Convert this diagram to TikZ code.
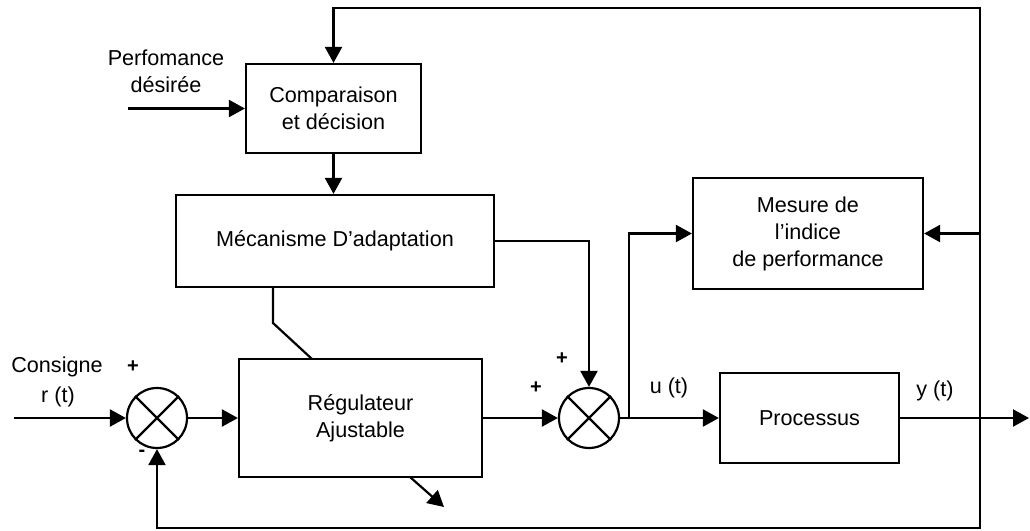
\documentclass[tikz,border=0pt]{standalone}
\usepackage{fontspec}
\setmainfont{Liberation Sans}
\usetikzlibrary{arrows.meta}

\tikzset{
  bloc/.style={draw, line width=1.1pt, align=center, inner sep=0pt},
  somme/.style={draw, circle, line width=1.1pt, minimum size=30pt, inner sep=0pt},
  fleche/.style={-{Triangle[length=8pt,width=8.5pt]}},
  signe/.style={font=\fontsize{10}{11}\selectfont\bfseries},
}

\begin{document}
\begin{tikzpicture}[x=0.5pt, y=-0.5pt, line width=1.1pt, font=\fontsize{10.8}{13.5}\selectfont]
    \useasboundingbox (0,0) rectangle (1030,531);

    % Blocs
    \node[bloc, minimum width=87.5pt, minimum height=44.5pt] (comp) at (333.5,108.5) {Comparaison\\et décision};
    \node[bloc, minimum width=159pt, minimum height=46pt] (mec) at (335,241) {Mécanisme D’adaptation};
    \node[bloc, minimum width=121.5pt, minimum height=59pt] (reg) at (360.5,418) {Régulateur\\Ajustable};
    \node[bloc, minimum width=115pt, minimum height=55.5pt] (mes) at (808,233.5) {Mesure de\\l’indice\\de performance};
    \node[bloc, minimum width=89.5pt, minimum height=45pt] (proc) at (809.5,418) {Processus};

    % Sommateurs
    \node[somme] (sum1) at (157,418) {};
    \node[somme] (sum2) at (589,418) {};
    \draw (sum1.north east) -- (sum1.south west) (sum1.north west) -- (sum1.south east);
    \draw (sum2.north east) -- (sum2.south west) (sum2.north west) -- (sum2.south east);

    % Points libres
    \coordinate (entree) at (14,418);
    \coordinate (perfin) at (128,108.5);
    \coordinate (sortie) at (1029,418);
    \coordinate (tap) at (980,418);
    \coordinate (haut) at (980,8);
    \coordinate (bas) at (980,528);
    \coordinate (branche) at (629,418);
    \coordinate (coude) at (273,323);
    \coordinate (ajust) at (312,359);
    \coordinate (ajA) at (410,477);
    \coordinate (ajB) at (444,507);

    % Chaine directe
    \draw[fleche] (entree) -- (sum1.west);
    \draw[fleche] (sum1.east) -- (reg.west);
    \draw[fleche] (reg.east) -- (sum2.west);
    \draw[fleche] (sum2.east) -- (proc.west);
    \draw[fleche] (proc.east) -- (sortie);

    % Boucle d'adaptation
    \draw[fleche] (perfin) -- (comp.west);
    \draw[fleche] (comp.south) -- (comp.south |- mec.north);
    \draw[fleche] (mec.east) -| (sum2.north);
    \draw[fleche] (branche) |- (mes.west);
    \draw[fleche] (tap |- mes.east) -- (mes.east);
    \draw[fleche] (tap) -- (haut) -| (comp.north);
    \draw[fleche] (tap) -- (bas) -| (sum1.south);

    % Reglage du regulateur
    \draw (mec.south -| coude) -- (coude) -- (ajust);
    \draw[fleche] (ajA) -- (ajB);

    % Textes
    \node[align=center] (perf) at (166,71) {Perfomance\\désirée};
    \node (consigne) at (57,367) {Consigne};
    \node (r) at (58,397) {r (t)};
    \node (u) at (669,388) {u (t)};
    \node (y) at (935,391) {y (t)};
    \node[signe] (p1) at (133,367) {+};
    \node[signe] (m1) at (142,453) {-};
    \node[signe] (p2) at (562,359) {+};
    \node[signe] (p3) at (536,388) {+};
\end{tikzpicture}
\end{document}
